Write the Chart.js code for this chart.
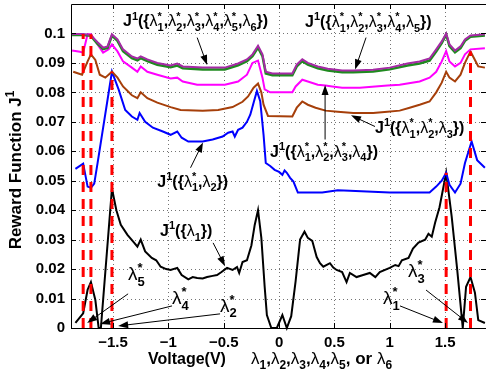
<!DOCTYPE html>
<html>
<head>
<meta charset="utf-8">
<script src="https://cdn.jsdelivr.net/npm/chart.js@4.4.0/dist/chart.umd.min.js"></script>
<style>
  html, body { margin: 0; padding: 0; background: #fff; }
  #wrap { width: 486px; height: 379px; position: relative; }
</style>
</head>
<body>
<div id="wrap"><canvas id="reward"></canvas></div>
<script>
/* ---- data ---- */
const xTicks = [-1.5, -1, -0.5, 0, 0.5, 1, 1.5];
const yTicks = [0, 0.01, 0.02, 0.03, 0.04, 0.05, 0.06, 0.07, 0.08, 0.09, 0.1];

// J1({λ1})
const voltageBlack = [-1.84,-1.77,-1.73,-1.70,-1.66,-1.63,-1.61,-1.51,-1.47,-1.43,-1.37,-1.31,-1.28,-1.25,-1.21,-1.15,-1.11,-1.07,-1.02,-0.98,-0.92,-0.88,-0.82,-0.78,-0.74,-0.69,-0.65,-0.60,-0.56,-0.52,-0.47,-0.42,-0.38,-0.36,-0.33,-0.29,-0.25,-0.22,-0.19,-0.16,-0.13,-0.11,-0.07,-0.02,0.03,0.07,0.11,0.15,0.19,0.23,0.26,0.30,0.34,0.37,0.40,0.46,0.49,0.52,0.57,0.61,0.64,0.70,0.76,0.82,0.87,0.91,1.00,1.05,1.08,1.11,1.17,1.21,1.26,1.32,1.35,1.38,1.41,1.45,1.51,1.56,1.61,1.66,1.69,1.73,1.77,1.80,1.86];
const rewardBlack = [0.0017,0.0050,0.0130,0.0156,0.0095,0.0000,0.0000,0.0473,0.0400,0.0350,0.0316,0.0290,0.0276,0.0300,0.0260,0.0238,0.0230,0.0208,0.0200,0.0197,0.0204,0.0180,0.0165,0.0173,0.0170,0.0168,0.0173,0.0177,0.0180,0.0190,0.0204,0.0197,0.0207,0.0187,0.0224,0.0230,0.0280,0.0350,0.0400,0.0306,0.0140,0.0044,0.0000,0.0000,0.0044,0.0000,0.0040,0.0160,0.0300,0.0327,0.0306,0.0296,0.0241,0.0220,0.0208,0.0220,0.0205,0.0197,0.0190,0.0156,0.0187,0.0173,0.0180,0.0187,0.0173,0.0190,0.0204,0.0214,0.0210,0.0230,0.0238,0.0270,0.0290,0.0300,0.0320,0.0310,0.0357,0.0410,0.0527,0.0378,0.0197,0.0000,0.0140,0.0173,0.0120,0.0027,0.0017];

// J1({λ1*,λ2})
const voltageBlue = [-1.84,-1.77,-1.73,-1.70,-1.67,-1.64,-1.51,-1.45,-1.39,-1.33,-1.28,-1.26,-1.21,-1.14,-1.05,-0.98,-0.92,-0.88,-0.82,-0.69,-0.60,-0.51,-0.46,-0.42,-0.40,-0.37,-0.33,-0.29,-0.26,-0.23,-0.20,-0.17,-0.14,-0.12,-0.08,-0.04,0.00,0.03,0.05,0.07,0.10,0.13,0.17,0.23,0.39,0.53,0.64,1.00,1.36,1.42,1.47,1.51,1.54,1.59,1.64,1.68,1.74,1.79,1.86];
const rewardBlue = [0.0540,0.0558,0.0480,0.0476,0.0490,0.0560,0.0870,0.0810,0.0740,0.0718,0.0707,0.0730,0.0700,0.0680,0.0667,0.0656,0.0667,0.0646,0.0633,0.0633,0.0640,0.0650,0.0663,0.0667,0.0650,0.0673,0.0680,0.0700,0.0724,0.0765,0.0805,0.0770,0.0656,0.0560,0.0550,0.0537,0.0530,0.0520,0.0535,0.0527,0.0510,0.0497,0.0460,0.0460,0.0460,0.0468,0.0466,0.0460,0.0460,0.0480,0.0500,0.0527,0.0486,0.0460,0.0490,0.0560,0.0633,0.0570,0.0544];

// J1({λ1*,λ2*,λ3})
const voltageBrown = [-1.86,-1.78,-1.73,-1.70,-1.66,-1.62,-1.57,-1.51,-1.46,-1.41,-1.33,-1.28,-1.25,-1.19,-1.10,-0.98,-0.89,-0.69,-0.55,-0.42,-0.33,-0.28,-0.23,-0.19,-0.16,-0.14,-0.10,0.12,0.16,0.21,0.26,0.33,0.42,0.53,0.67,0.85,0.98,1.09,1.18,1.27,1.36,1.42,1.47,1.51,1.54,1.59,1.64,1.68,1.73,1.77,1.80,1.86];
const rewardBrown = [0.0870,0.0860,0.0905,0.0929,0.0910,0.0860,0.0850,0.0870,0.0850,0.0820,0.0790,0.0780,0.0800,0.0780,0.0765,0.0750,0.0740,0.0738,0.0740,0.0750,0.0768,0.0786,0.0816,0.0830,0.0800,0.0758,0.0720,0.0718,0.0748,0.0769,0.0758,0.0748,0.0738,0.0734,0.0730,0.0730,0.0734,0.0738,0.0748,0.0758,0.0769,0.0800,0.0833,0.0870,0.0850,0.0837,0.0860,0.0900,0.0939,0.0910,0.0888,0.0884];

// J1({λ1*,λ2*,λ3*,λ4})
const voltageMagenta = [-1.87,-1.80,-1.77,-1.73,-1.70,-1.64,-1.59,-1.54,-1.51,-1.46,-1.41,-1.33,-1.28,-1.25,-1.19,-1.10,-0.98,-0.92,-0.87,-0.74,-0.58,-0.49,-0.37,-0.29,-0.24,-0.19,-0.15,-0.13,-0.08,0.12,0.15,0.21,0.26,0.35,0.42,0.48,0.57,0.73,0.98,1.09,1.27,1.36,1.42,1.47,1.51,1.54,1.59,1.64,1.68,1.73,1.86];
const rewardMagenta = [0.0942,0.0938,0.0935,0.0997,0.0997,0.0963,0.0935,0.0946,0.0963,0.0939,0.0905,0.0884,0.0870,0.0888,0.0870,0.0860,0.0847,0.0850,0.0837,0.0826,0.0826,0.0826,0.0837,0.0860,0.0900,0.0908,0.0850,0.0810,0.0800,0.0800,0.0820,0.0843,0.0837,0.0826,0.0823,0.0820,0.0816,0.0816,0.0823,0.0826,0.0837,0.0850,0.0870,0.0905,0.0940,0.0905,0.0888,0.0900,0.0929,0.0946,0.0950];

// J1({λ1*,...,λ4*,λ5}) and J1({λ1*,...,λ5*,λ6}) share the same voltage samples
const voltageTop = [-1.87,-1.77,-1.70,-1.68,-1.64,-1.59,-1.55,-1.51,-1.46,-1.41,-1.33,-1.28,-1.25,-1.19,-1.10,-0.98,-0.92,-0.87,-0.69,-0.49,-0.37,-0.29,-0.24,-0.19,-0.15,-0.12,-0.06,0.12,0.16,0.21,0.26,0.35,0.44,0.57,0.67,0.85,1.00,1.16,1.27,1.36,1.42,1.47,1.51,1.54,1.59,1.64,1.68,1.73,1.86];
const rewardPurple = [0.0998,0.0998,0.0995,0.0986,0.0970,0.0952,0.0956,0.0997,0.0980,0.0946,0.0922,0.0915,0.0922,0.0912,0.0900,0.0891,0.0898,0.0888,0.0884,0.0884,0.0898,0.0912,0.0929,0.0958,0.0929,0.0870,0.0864,0.0864,0.0894,0.0912,0.0900,0.0888,0.0880,0.0874,0.0874,0.0877,0.0884,0.0898,0.0905,0.0915,0.0946,0.0973,0.1000,0.0963,0.0942,0.0956,0.0980,0.0993,0.0997];
const rewardGreen = [0.0995,0.0995,0.0992,0.0982,0.0965,0.0947,0.0951,0.0993,0.0975,0.0940,0.0916,0.0909,0.0916,0.0906,0.0894,0.0885,0.0891,0.0882,0.0878,0.0878,0.0892,0.0906,0.0923,0.0952,0.0923,0.0864,0.0858,0.0858,0.0888,0.0906,0.0894,0.0882,0.0874,0.0868,0.0868,0.0871,0.0878,0.0891,0.0898,0.0908,0.0939,0.0967,0.0996,0.0957,0.0936,0.0950,0.0975,0.0989,0.0993];

// optimal λ* positions (red dashed markers) and the value they reach
const starVoltage = [-1.77, -1.70, -1.51, 1.51, 1.73];
const starReward = [0.0998, 0.0997, 0.0870, 0.0527, 0.0939];

/* ---- styling ---- */
const FONT = '"Liberation Sans", Arial, Helvetica, sans-serif';
const COLORS = {
  black: '#000000',
  blue: '#0000ff',
  brown: '#a63f0a',
  magenta: '#ff00ff',
  purple: '#a52aa5',
  green: '#1f8a1f',
  red: '#ff0000',
  grid: 'rgba(0,0,0,0.55)',
};

// annotations in data coordinates: label position and arrow tail -> head
const labels = [
  { text: 'J^1({λ_1^*,λ_2^*,λ_3^*,λ_4^*,λ_5^*,λ_6})', x: -1.41, y: 0.1024, size: 16, from: [-0.74, 0.0986], to: [-0.65, 0.0893] },
  { text: 'J^1({λ_1^*,λ_2^*,λ_3^*,λ_4^*,λ_5})', x: 0.235, y: 0.1022, size: 16, from: [0.786, 0.0986], to: [0.687, 0.0878] },
  { text: 'J^1({λ_1^*,λ_2^*,λ_3})', x: 0.867, y: 0.0663, size: 16, from: [0.867, 0.0684], to: [0.650, 0.0722] },
  { text: 'J^1({λ_1^*,λ_2^*,λ_3^*,λ_4})', x: -0.081, y: 0.0582, size: 16, from: [0.416, 0.0640], to: [0.416, 0.0825] },
  { text: 'J^1({λ_1^*,λ_2})', x: -1.10, y: 0.0480, size: 16, from: [-0.80, 0.0544], to: [-0.687, 0.0630] },
  { text: 'J^1({λ_1})', x: -1.075, y: 0.0313, size: 16, from: [-0.596, 0.0289], to: [-0.488, 0.0210] },
  { text: 'λ_5^*', x: -1.364, y: 0.0163, size: 19, from: [-1.364, 0.0116], to: [-1.734, 0.0017] },
  { text: 'λ_4^*', x: -0.967, y: 0.0080, size: 19, from: [-0.967, 0.0075], to: [-1.617, 0.0014] },
  { text: 'λ_2^*', x: -0.533, y: 0.0056, size: 19, from: [-0.533, 0.0048], to: [-1.454, 0.0007] },
  { text: 'λ_1^*', x: 0.94, y: 0.0080, size: 19, from: [1.093, 0.0075], to: [1.481, 0.0017] },
  { text: 'λ_3^*', x: 1.165, y: 0.0172, size: 19, from: [1.328, 0.0129], to: [1.707, 0.0017] },
];

/* ---- helpers ---- */
function pairs(xs, ys) {
  return xs.map((x, i) => ({ x, y: ys[i] }));
}

// draws text with ^ (superscript) and _ (subscript); a sub directly after a sup stacks
function drawRich(ctx, str, x, y, size, dry) {
  const bigFont = `bold ${size}px ${FONT}`;
  const lamFont = `${size}px ${FONT}`;
  const smallFont = `bold ${Math.round(size * 0.7)}px ${FONT}`;
  let cx = x, last = null, start = 0, wPrev = 0;
  for (let i = 0; i < str.length; i++) {
    const ch = str[i];
    if (ch === '^' || ch === '_') {
      const c = str[++i];
      ctx.font = smallFont;
      const w = ctx.measureText(c).width;
      const dy = ch === '^' ? -size * 0.42 : size * 0.3;
      if (last && last !== ch) {
        if (!dry) ctx.fillText(c, start, y + dy);
        cx = start + Math.max(w, wPrev);
        last = null;
      } else {
        start = cx;
        if (!dry) ctx.fillText(c, cx, y + dy);
        cx += w;
        wPrev = w;
        last = ch;
      }
      continue;
    }
    last = null;
    ctx.font = ch === 'λ' ? lamFont : bigFont;
    if (!dry) ctx.fillText(ch, cx, y);
    cx += ctx.measureText(ch).width;
  }
  return cx - x;
}

function arrow(ctx, x1, y1, x2, y2) {
  const a = Math.atan2(y2 - y1, x2 - x1);
  const len = 10, half = 3.5;
  ctx.beginPath();
  ctx.moveTo(x1, y1);
  ctx.lineTo(x2 - Math.cos(a) * len * 0.8, y2 - Math.sin(a) * len * 0.8);
  ctx.stroke();
  ctx.beginPath();
  ctx.moveTo(x2, y2);
  ctx.lineTo(x2 - Math.cos(a) * len - Math.sin(a) * half, y2 - Math.sin(a) * len + Math.cos(a) * half);
  ctx.lineTo(x2 - Math.cos(a) * len + Math.sin(a) * half, y2 - Math.sin(a) * len - Math.cos(a) * half);
  ctx.closePath();
  ctx.fill();
}

/* ---- plugin: dotted grid, axis box, inward ticks, titles, annotations ---- */
const framePlugin = {
  id: 'matlabFrame',
  beforeDatasetsDraw(chart) {
    const { ctx, chartArea: a, scales: { x, y } } = chart;
    ctx.save();
    ctx.strokeStyle = COLORS.grid;
    ctx.lineWidth = 1;
    ctx.setLineDash([1, 3]);
    xTicks.forEach(v => {
      const px = Math.round(x.getPixelForValue(v)) + 0.5;
      ctx.beginPath(); ctx.moveTo(px, a.top); ctx.lineTo(px, a.bottom); ctx.stroke();
    });
    yTicks.forEach(v => {
      if (v === 0) return;
      const py = Math.round(y.getPixelForValue(v)) + 0.5;
      ctx.beginPath(); ctx.moveTo(a.left, py); ctx.lineTo(a.right, py); ctx.stroke();
    });
    ctx.restore();
  },
  afterDraw(chart) {
    const { ctx, chartArea: a, scales: { x, y } } = chart;
    ctx.save();
    ctx.strokeStyle = '#000';
    ctx.lineWidth = 1;
    ctx.setLineDash([]);
    // axis box (right side lies past the canvas edge)
    ctx.beginPath();
    ctx.moveTo(a.right, a.top + 0.5); ctx.lineTo(a.left + 0.5, a.top + 0.5);
    ctx.lineTo(a.left + 0.5, a.bottom + 0.5); ctx.lineTo(a.right, a.bottom + 0.5);
    ctx.stroke();
    const tl = 5;
    xTicks.forEach(v => {
      const px = Math.round(x.getPixelForValue(v)) + 0.5;
      ctx.beginPath();
      ctx.moveTo(px, a.bottom); ctx.lineTo(px, a.bottom - tl);
      ctx.moveTo(px, a.top); ctx.lineTo(px, a.top + tl);
      ctx.stroke();
    });
    yTicks.forEach(v => {
      const py = Math.round(y.getPixelForValue(v)) + 0.5;
      ctx.beginPath();
      ctx.moveTo(a.left, py); ctx.lineTo(a.left + tl, py);
      ctx.moveTo(a.right, py); ctx.lineTo(a.right - tl, py);
      ctx.stroke();
    });

    // annotations
    ctx.fillStyle = '#000';
    ctx.textBaseline = 'alphabetic';
    ctx.textAlign = 'left';
    ctx.lineWidth = 1;
    labels.forEach(l => {
      drawRich(ctx, l.text, x.getPixelForValue(l.x), y.getPixelForValue(l.y), l.size);
      arrow(ctx, x.getPixelForValue(l.from[0]), y.getPixelForValue(l.from[1]),
                 x.getPixelForValue(l.to[0]), y.getPixelForValue(l.to[1]));
    });

    // axis titles
    ctx.font = `bold 16px ${FONT}`;
    ctx.fillText('Voltage(V)', 148, 364);
    drawRich(ctx, 'λ_1,λ_2,λ_3,λ_4,λ_5, or λ_6', 251, 364, 17);

    const yTitle = 'Reward Function J^1';
    const w = drawRich(ctx, yTitle, 0, 0, 17, true);
    ctx.translate(21, 170);
    ctx.rotate(-Math.PI / 2);
    drawRich(ctx, yTitle, -w / 2, 0, 17);
    ctx.restore();
  }
};

/* ---- chart ---- */
const lineDs = (label, xs, ys, color, width, order) => ({
  label, data: pairs(xs, ys), borderColor: color, backgroundColor: color,
  borderWidth: width, pointRadius: 0, tension: 0, order, clip: false,
});

const datasets = [
  ...starVoltage.map((v, i) => ({
    label: 'lambda* ' + i,
    data: [{ x: v, y: 0 }, { x: v, y: starReward[i] }],
    borderColor: COLORS.red, borderWidth: 3, borderDash: [10, 7],
    pointRadius: 0, order: 0,
  })),
  lineDs('J1 λ5', voltageTop, rewardPurple, COLORS.purple, 2, 1),
  lineDs('J1 λ6', voltageTop, rewardGreen, COLORS.green, 2.5, 2),
  lineDs('J1 λ4', voltageMagenta, rewardMagenta, COLORS.magenta, 2, 3),
  lineDs('J1 λ3', voltageBrown, rewardBrown, COLORS.brown, 2, 4),
  lineDs('J1 λ2', voltageBlue, rewardBlue, COLORS.blue, 2, 5),
  lineDs('J1 λ1', voltageBlack, rewardBlack, COLORS.black, 2, 6),
];

const tickFont = { family: FONT, size: 15, weight: 'bold' };

new Chart(document.getElementById('reward'), {
  type: 'line',
  data: { datasets },
  options: {
    responsive: true,
    maintainAspectRatio: false,
    animation: false,
    devicePixelRatio: 1,
    layout: { padding: { top: 4, left: 0, right: 0, bottom: 0 } },
    plugins: { legend: { display: false }, tooltip: { enabled: false } },
    scales: {
      x: {
        type: 'linear',
        min: -1.88,
        max: 1.87,
        afterBuildTicks: s => { s.ticks = xTicks.map(value => ({ value })); },
        afterFit: s => { s.height = 51; s.paddingLeft = 0; s.paddingRight = 0; },
        grid: { display: false, drawTicks: false },
        border: { display: false },
        ticks: {
          font: tickFont, color: '#000', padding: 6, maxRotation: 0, autoSkip: false,
          callback: v => (v < 0 ? '\u2212' + Math.abs(v) : String(v)),
        },
      },
      y: {
        type: 'linear',
        min: 0,
        max: 0.11,
        afterBuildTicks: s => { s.ticks = yTicks.map(value => ({ value })); },
        afterFit: s => { s.width = 71; s.paddingTop = 0; s.paddingBottom = 0; },
        grid: { display: false, drawTicks: false },
        border: { display: false },
        ticks: {
          font: tickFont, color: '#000', padding: 6, autoSkip: false,
          callback: v => String(+v.toFixed(2)),
        },
      },
    },
  },
  plugins: [framePlugin],
});
</script>
</body>
</html>
